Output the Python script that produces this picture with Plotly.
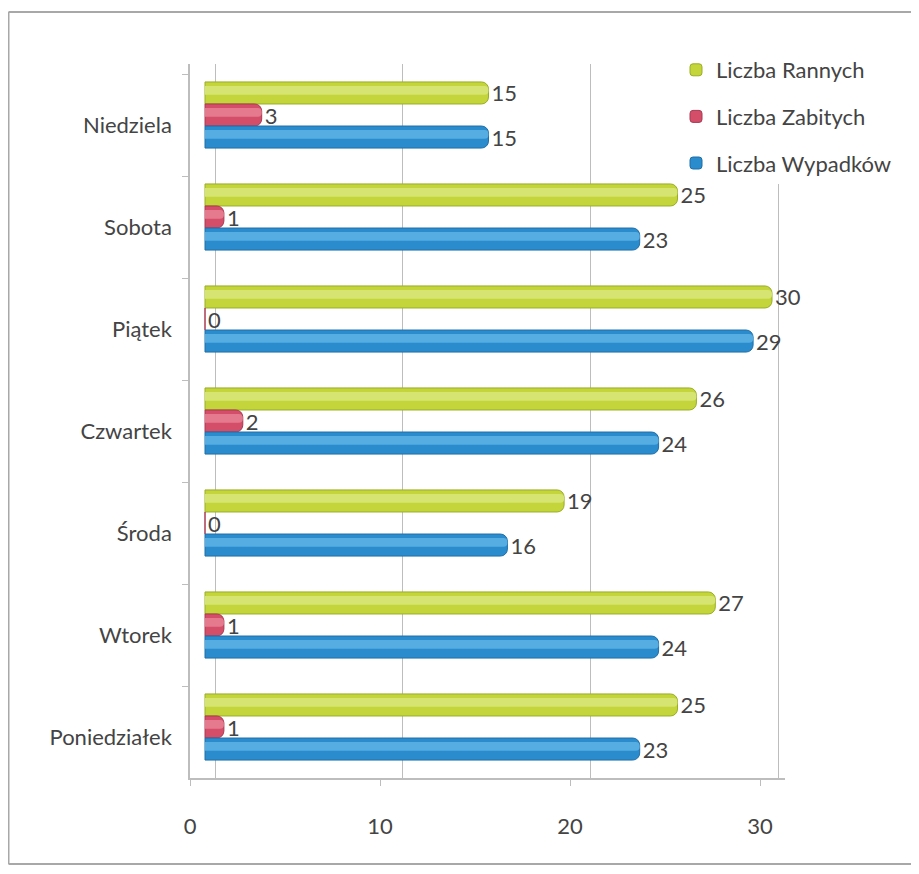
import plotly.graph_objects as go

days = ["Poniedziałek", "Wtorek", "Środa", "Czwartek", "Piątek", "Sobota", "Niedziela"]
wypadki = [23, 24, 16, 24, 29, 23, 15]
zabici = [1, 1, 0, 2, 0, 1, 3]
ranni = [25, 27, 19, 26, 30, 25, 15]
x_ticks = [0, 10, 20, 30]

# (name, values, colour, highlight, edge, slot index from bottom)
series = [
    ("Liczba Rannych", ranni, "#c3d53a", "#d6e472", "#9aae22", 2),
    ("Liczba Zabitych", zabici, "#d44e69", "#e57a8f", "#a83a52", 1),
    ("Liczba Wypadków", wypadki, "#2a8ccd", "#55ade2", "#1f6fa8", 0),
]

# the page adds an 8px body margin, so figure coords = page coords - 8
W = 903
H = 858
L, T = 182, 56
pw = 595
ph = 714
R = W - L - pw
B = H - T - ph

FONT = "Lato"
TXT = "#444444"

bw = 0.216
fig = go.Figure()
for name, vals, col, hi, dark, slot in series:
    off = -0.324 + slot * bw
    fig.add_trace(go.Bar(
        y=days, x=vals, orientation="h", name=name,
        legendgroup=name,
        offset=off, width=bw,
        marker=dict(color=col, line=dict(color=dark, width=1), cornerradius=7),
        text=[str(v) for v in vals], textposition="outside", cliponaxis=False,
        constraintext="none",
        textfont=dict(family=FONT, size=22, color=TXT),
        xaxis="x", yaxis="y",
    ))
    fig.add_trace(go.Bar(
        y=days, x=vals, orientation="h", showlegend=False, legendgroup=name,
        offset=off + bw * 0.42, width=bw * 0.4,
        marker=dict(color=hi, line=dict(width=0), cornerradius=4),
        hoverinfo="skip", xaxis="x", yaxis="y",
    ))

# helper traces so the back-wall grid axis and the front label axes are drawn
fig.add_trace(go.Scatter(x=x_ticks, y=[days[0]] * 4, mode="markers",
                         marker=dict(opacity=0, size=1), showlegend=False,
                         hoverinfo="skip", xaxis="x2", yaxis="y"))
fig.add_trace(go.Scatter(x=x_ticks, y=[days[0]] * 4, mode="markers",
                         marker=dict(opacity=0, size=1), showlegend=False,
                         hoverinfo="skip", xaxis="x3", yaxis="y2"))

bar_s = 18.9
grid_s = 18.77
front_s = 19.0

fig.update_layout(
    width=W, height=H,
    margin=dict(l=L, r=R, t=T, b=B),
    paper_bgcolor="white", plot_bgcolor="rgba(0,0,0,0)",
    barmode="overlay",
    font=dict(family=FONT, color=TXT),
    showlegend=True,
    legend=dict(
        x=(668 - L) / pw, y=(T + ph - 41) / ph, xanchor="left", yanchor="top",
        bgcolor="white", traceorder="grouped", tracegroupgap=15,
        font=dict(family=FONT, size=22, color=TXT),
        itemwidth=30,
    ),
    xaxis=dict(range=[-15 / bar_s, (pw - 15) / bar_s], showgrid=False,
               showticklabels=False, zeroline=False, ticks=""),
    xaxis2=dict(overlaying="x", range=[-25 / grid_s, (pw - 25) / grid_s],
                tickvals=x_ticks, showgrid=True, gridcolor="#bdbdbd", gridwidth=1,
                showticklabels=False, zeroline=False, ticks="", anchor="y", side="bottom"),
    xaxis3=dict(overlaying="x", range=[0, pw / front_s], tickvals=x_ticks,
                showgrid=False, zeroline=False, showline=True, linecolor="#bdbdbd",
                linewidth=1.5, ticks="outside", ticklen=6, tickcolor="#bdbdbd",
                ticklabelstandoff=22, anchor="y2", side="bottom",
                tickfont=dict(family=FONT, size=22, color=TXT)),
    yaxis=dict(type="category", categoryorder="array", categoryarray=days,
               range=[-0.5, 6.5], showticklabels=False, showgrid=False,
               zeroline=False, ticks=""),
    yaxis2=dict(type="category", categoryorder="array", categoryarray=days,
                overlaying="y", range=[-0.4, 6.6], anchor="x3", side="left",
                showgrid=False, zeroline=False, showline=True, linecolor="#bdbdbd",
                linewidth=1.5, ticks="outside", tickson="boundaries", ticklen=6,
                tickcolor="#bdbdbd", ticklabelstandoff=12,
                tickfont=dict(family=FONT, size=22, color=TXT)),
)

# outer chart frame (left, top and bottom edges; the right edge is off-page)
fx0 = (0.5 - L) / pw
fx1 = (W + 50 - L) / pw
fy_top = (T + ph - 4) / ph
fy_bot = (T + ph - (H - 2)) / ph
for x0, y0, x1, y1 in [(fx0, fy_bot, fx0, fy_top), (fx0, fy_top, fx1, fy_top),
                       (fx0, fy_bot, fx1, fy_bot)]:
    fig.add_shape(type="line", xref="paper", yref="paper",
                  x0=x0, y0=y0, x1=x1, y1=y1,
                  line=dict(color="#a8a8a8", width=2), layer="below")

fig.write_html("out.html")
